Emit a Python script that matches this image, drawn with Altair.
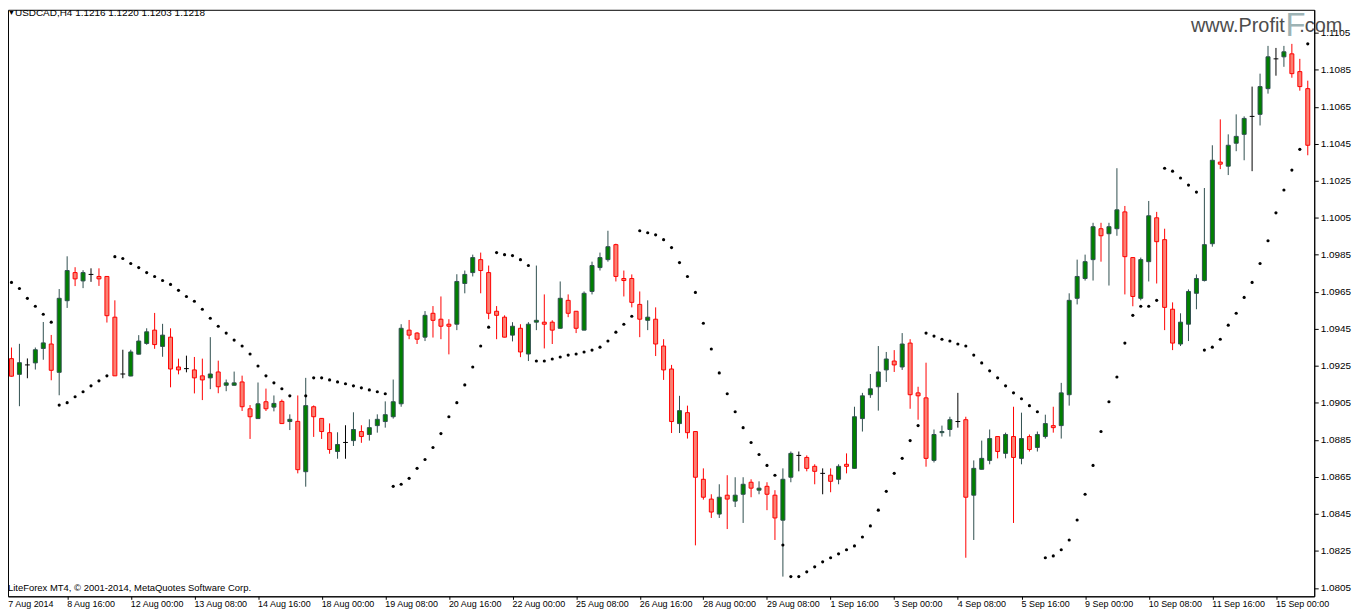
import altair as alt
import pandas as pd

# ---- data (USDCAD H4) ----
opens = [1.09145,1.09289,1.09204,1.09255,1.09266,1.09344,1.09368,1.09215,1.09602,1.09754,
         1.09709,1.09744,1.09733,1.09733,1.09513,1.09206,1.09195,1.09313,1.09371,1.09443,
         1.09355,1.09405,1.09244,1.09235,1.09228,1.09196,1.09185,1.09217,1.09145,1.09145,
         1.09163,1.09018,1.08965,1.09056,1.09027,1.09058,1.08949,1.08950,1.08678,1.09029,
         1.08966,1.08889,1.08787,1.08836,1.08846,1.08895,1.08879,1.08927,1.08949,1.08975,
         1.09045,1.09443,1.09427,1.09405,1.09534,1.09502,1.09475,1.09475,1.09695,1.09754,
         1.09824,1.09754,1.09545,1.09513,1.09416,1.09453,1.09314,1.09486,1.09486,1.09486,
         1.09453,1.09604,1.09545,1.09443,1.09652,1.09781,1.09824,1.09905,1.09722,1.09722,
         1.09582,1.09496,1.09502,1.09357,1.09233,1.08938,1.08997,1.08895,1.08637,1.08530,
         1.08449,1.08551,1.08519,1.08556,1.08621,1.08578,1.08599,1.08551,1.08416,1.08648,
         1.08766,1.08755,1.08707,1.08669,1.08659,1.08637,1.08718,1.08696,1.08965,1.09094,
         1.09137,1.09228,1.09276,1.09244,1.09373,1.09104,1.09077,1.08739,1.08889,1.08906,
         1.08949,1.08959,1.08551,1.08691,1.08739,1.08868,1.08777,1.08868,1.08750,1.08868,
         1.08809,1.08868,1.08927,1.08927,1.09094,1.09615,1.09722,1.09824,1.09991,1.09964,
         1.09991,1.10082,1.09835,1.09615,1.09813,1.10050,1.09932,1.09556,1.09368,1.09475,
         1.09642,1.09711,1.09910,1.10351,1.10329,1.10453,1.10501,1.10598,1.10609,1.10748,
         1.10909,1.10920,1.10936,1.10840,1.10748]
highs = [1.09385,1.09349,1.09369,1.09290,1.09349,1.09487,1.09417,1.09665,1.09842,1.09783,
         1.09767,1.09777,1.09777,1.09735,1.09604,1.09337,1.09337,1.09416,1.09453,1.09536,
         1.09477,1.09453,1.09289,1.09305,1.09298,1.09289,1.09405,1.09278,1.09176,1.09219,
         1.09197,1.09038,1.09160,1.09127,1.09090,1.09068,1.08988,1.09090,1.09185,1.09036,
         1.08968,1.08939,1.08891,1.08929,1.08999,1.08929,1.08961,1.08988,1.09058,1.09176,
         1.09475,1.09498,1.09432,1.09546,1.09573,1.09625,1.09502,1.09745,1.09765,1.09851,
         1.09862,1.09792,1.09573,1.09523,1.09486,1.09475,1.09486,1.09792,1.09636,1.09496,
         1.09706,1.09636,1.09546,1.09652,1.09813,1.09862,1.09980,1.09910,1.09765,1.09744,
         1.09652,1.09604,1.09566,1.09394,1.09255,1.09088,1.09035,1.08897,1.08696,1.08556,
         1.08610,1.08659,1.08648,1.08648,1.08637,1.08626,1.08621,1.08578,1.08696,1.08787,
         1.08787,1.08766,1.08718,1.08696,1.08696,1.08718,1.08777,1.09029,1.09104,1.09206,
         1.09357,1.09325,1.09335,1.09427,1.09394,1.09137,1.09267,1.08906,1.08927,1.08975,
         1.09104,1.08975,1.08739,1.08846,1.08906,1.08870,1.08889,1.09029,1.08997,1.08879,
         1.08895,1.08986,1.09029,1.09158,1.09642,1.09824,1.09851,1.10023,1.10023,1.10023,
         1.10318,1.10114,1.09837,1.09835,1.10141,1.10082,1.09991,1.09593,1.09534,1.09663,
         1.09744,1.10211,1.10442,1.10582,1.10501,1.10609,1.10598,1.10759,1.10829,1.10979,
         1.10968,1.10979,1.10990,1.10909,1.10791]
lows = [1.09134,1.09192,1.09032,1.09183,1.09230,1.09283,1.09172,1.09091,1.09563,1.09681,
        1.09670,1.09704,1.09682,1.09484,1.09195,1.09183,1.09194,1.09312,1.09364,1.09342,
        1.09299,1.09134,1.09204,1.09215,1.09101,1.09065,1.09124,1.09102,1.09113,1.09144,
        1.09006,1.08855,1.08964,1.09006,1.09004,1.08937,1.08903,1.08669,1.08597,1.08866,
        1.08855,1.08775,1.08748,1.08748,1.08817,1.08834,1.08846,1.08889,1.08916,1.08965,
        1.09029,1.09394,1.09368,1.09384,1.09403,1.09394,1.09312,1.09443,1.09642,1.09733,
        1.09642,1.09502,1.09394,1.09404,1.09382,1.09297,1.09276,1.09443,1.09344,1.09368,
        1.09452,1.09513,1.09427,1.09442,1.09636,1.09765,1.09813,1.09706,1.09625,1.09566,
        1.09405,1.09443,1.09303,1.09174,1.08887,1.08887,1.08857,1.08280,1.08527,1.08428,
        1.08428,1.08368,1.08487,1.08401,1.08540,1.08556,1.08470,1.08309,1.08111,1.08621,
        1.08680,1.08680,1.08610,1.08556,1.08567,1.08610,1.08669,1.08695,1.08895,1.09077,
        1.09008,1.09163,1.09217,1.09228,1.09018,1.08959,1.08705,1.08728,1.08868,1.08868,
        1.08916,1.08213,1.08309,1.08690,1.08718,1.08750,1.08750,1.08401,1.08718,1.08787,
        1.08787,1.08857,1.08889,1.08857,1.09035,1.09582,1.09711,1.09711,1.09813,1.09684,
        1.09953,1.09636,1.09572,1.09604,1.09706,1.09695,1.09443,1.09335,1.09357,1.09384,
        1.09556,1.09706,1.09894,1.10313,1.10281,1.10410,1.10361,1.10302,1.10549,1.10721,
        1.10818,1.10866,1.10807,1.10737,1.10388]
closes = [1.09298,1.09194,1.09267,1.09255,1.09337,1.09374,1.09226,1.09615,1.09765,1.09720,
          1.09754,1.09744,1.09720,1.09521,1.09196,1.09206,1.09325,1.09384,1.09434,1.09365,
          1.09416,1.09233,1.09228,1.09235,1.09185,1.09174,1.09206,1.09137,1.09158,1.09158,
          1.09029,1.08975,1.09045,1.09018,1.09047,1.08938,1.08961,1.08689,1.09035,1.08975,
          1.08895,1.08798,1.08825,1.08836,1.08906,1.08868,1.08916,1.08961,1.08986,1.09056,
          1.09453,1.09416,1.09394,1.09523,1.09496,1.09464,1.09464,1.09706,1.09744,1.09835,
          1.09765,1.09534,1.09523,1.09405,1.09464,1.09325,1.09475,1.09496,1.09475,1.09443,
          1.09615,1.09534,1.09453,1.09642,1.09792,1.09835,1.09894,1.09733,1.09711,1.09593,
          1.09502,1.09513,1.09368,1.09228,1.08949,1.09008,1.08889,1.08648,1.08540,1.08460,
          1.08540,1.08530,1.08551,1.08610,1.08589,1.08589,1.08556,1.08428,1.08637,1.08777,
          1.08766,1.08696,1.08680,1.08669,1.08626,1.08707,1.08707,1.08975,1.09088,1.09126,
          1.09217,1.09287,1.09255,1.09368,1.09094,1.09088,1.08750,1.08879,1.08895,1.08959,
          1.08949,1.08540,1.08696,1.08750,1.08857,1.08787,1.08879,1.08755,1.08857,1.08798,
          1.08879,1.08938,1.08916,1.09104,1.09604,1.09733,1.09813,1.10002,1.09953,1.10002,
          1.10093,1.09840,1.09625,1.09824,1.10061,1.09921,1.09566,1.09373,1.09486,1.09652,
          1.09722,1.09905,1.10361,1.10340,1.10442,1.10490,1.10587,1.10598,1.10759,1.10920,
          1.10909,1.10947,1.10829,1.10759,1.10442]
sar = [1.09740,1.09701,1.09668,1.09615,1.09572,1.09529,1.09486,1.09038,1.09051,1.09083,
       1.09110,1.09142,1.09169,1.09196,1.09840,1.09830,1.09803,1.09781,1.09754,1.09733,
       1.09711,1.09690,1.09658,1.09625,1.09599,1.09556,1.09507,1.09464,1.09427,1.09389,
       1.09357,1.09314,1.09249,1.09196,1.09158,1.09126,1.09088,None,1.09088,1.09185,
       1.09185,1.09174,1.09163,1.09153,1.09142,1.09131,1.09120,1.09110,1.09099,1.08599,
       1.08610,1.08642,1.08696,1.08744,1.08809,1.08884,1.08975,1.09051,1.09147,1.09244,
       1.09357,1.09459,1.09862,1.09851,1.09846,1.09824,1.09792,1.09276,1.09276,1.09287,
       1.09298,1.09308,1.09314,1.09325,1.09335,1.09351,1.09384,1.09432,1.09475,1.09518,
       1.09980,1.09969,1.09958,1.09932,1.09889,1.09808,1.09733,1.09647,1.09480,1.09341,
       1.09212,1.09099,1.09002,1.08916,1.08836,1.08771,1.08712,1.08659,1.08282,1.08111,
       1.08111,1.08137,1.08164,1.08191,1.08213,1.08234,1.08256,1.08277,1.08325,1.08385,
       1.08470,1.08572,1.08669,1.08750,1.08846,1.08927,1.09427,1.09411,1.09394,1.09384,
       1.09368,1.09357,1.09308,1.09266,1.09223,1.09185,1.09142,1.09104,1.09072,1.09035,
       1.09002,1.08213,1.08223,1.08256,1.08309,1.08417,1.08556,1.08712,1.08895,1.09056,
       1.09190,1.09373,1.09523,1.09572,1.09572,1.09604,1.10318,1.10302,1.10265,1.10227,
       1.10189,1.09335,1.09351,1.09394,1.09470,1.09534,1.09620,1.09701,1.09803,1.09926,
       1.10077,1.10200,1.10308,1.10420,1.10990]

date_labels = ["7 Aug 2014", "8 Aug 16:00", "12 Aug 00:00", "13 Aug 08:00", "14 Aug 16:00",
               "18 Aug 00:00", "19 Aug 08:00", "20 Aug 16:00", "22 Aug 00:00", "25 Aug 08:00",
               "26 Aug 16:00", "28 Aug 00:00", "29 Aug 08:00", "1 Sep 16:00", "3 Sep 00:00",
               "4 Sep 08:00", "5 Sep 16:00", "9 Sep 00:00", "10 Sep 08:00", "11 Sep 16:00",
               "15 Sep 00:00"]
label_bars = [0, 8, 16, 24, 32, 40, 48, 56, 64, 72, 80, 88, 96, 104, 112, 120, 128,
              136, 144, 152, 160]
y_ticks = [1.0805, 1.0825, 1.0845, 1.0865, 1.0885, 1.0905, 1.0925, 1.0945, 1.0965,
           1.0985, 1.1005, 1.1025, 1.1045, 1.1065, 1.1085, 1.1105]

header = "USDCAD,H4  1.1216 1.1220 1.1203 1.1218"
copyright_text = "LiteForex MT4, \u00a9 2001-2014, MetaQuotes Software Corp."

df = pd.DataFrame({"i": list(range(len(opens))), "open": opens, "high": highs,
                   "low": lows, "close": closes, "sar": sar})
lab_df = pd.DataFrame({"bar": label_bars, "label": date_labels})

W, H = 1314, 590
FONT = "Liberation Sans"
xs = alt.Scale(domain=[0.5625, 164.8125], nice=False, zero=False)
ys = alt.Scale(domain=[1.080046, 1.111741], nice=False, zero=False)

x_axis = alt.Axis(values=label_bars, labels=False, tickSize=3, tickColor="black",
                  domainColor="black", grid=False, title=None)
y_axis = alt.Axis(orient="right", values=y_ticks, format=".4f", tickSize=4,
                  tickColor="black", domainColor="black", grid=False,
                  labelFont=FONT, labelFontSize=10, labelColor="black",
                  labelPadding=2, title=None)

base = alt.Chart(df).transform_calculate(
    cat="datum.close > datum.open ? 'up' : (datum.close < datum.open ? 'down' : 'doji')"
)

wicks = base.mark_rule(strokeWidth=1, clip=True).encode(
    x=alt.X("i:Q", scale=xs, axis=x_axis),
    y=alt.Y("low:Q", scale=ys, axis=y_axis),
    y2="high:Q",
    color=alt.Color("cat:N", legend=None,
                    scale=alt.Scale(domain=["up", "down", "doji"],
                                    range=["#2F4F4F", "#FF0000", "#000000"])),
)

bodies = base.transform_filter("datum.cat != 'doji'").transform_calculate(
    xl="datum.i - 0.25", xr="datum.i + 0.25"
).mark_rect(strokeWidth=1, clip=True).encode(
    x=alt.X("xl:Q", scale=xs, axis=x_axis),
    x2="xr:Q",
    y=alt.Y("open:Q", scale=ys, axis=y_axis),
    y2="close:Q",
    fill=alt.Fill("cat:N", legend=None,
                  scale=alt.Scale(domain=["up", "down"], range=["#008000", "#FA8072"])),
    stroke=alt.Stroke("cat:N", legend=None,
                      scale=alt.Scale(domain=["up", "down"], range=["#2F4F4F", "#FF0000"])),
)

doji = base.transform_filter("datum.cat == 'doji'").transform_calculate(
    xl="datum.i - 0.3", xr="datum.i + 0.3"
).mark_rule(color="black", strokeWidth=1, clip=True).encode(
    x=alt.X("xl:Q", scale=xs, axis=x_axis),
    x2="xr:Q",
    y=alt.Y("open:Q", scale=ys, axis=y_axis),
)

dots = base.transform_filter("isValid(datum.sar)").mark_circle(
    size=10, color="black", opacity=1, clip=True
).encode(
    x=alt.X("i:Q", scale=xs, axis=x_axis),
    y=alt.Y("sar:Q", scale=ys, axis=y_axis),
)

xlabels = alt.Chart(lab_df).transform_calculate(xp="max(datum.bar, 0.6)").mark_text(
    align="left", baseline="middle", font=FONT, fontSize=9, color="black"
).encode(
    x=alt.X("xp:Q", scale=xs, axis=x_axis),
    y=alt.value(H + 8),
    text="label:N",
)

def txt(s, x, y, size, color, baseline="middle"):
    return alt.Chart(pd.DataFrame({"t": [s]})).mark_text(
        align="left", baseline=baseline, font=FONT, fontSize=size, color=color
    ).encode(x=alt.value(x), y=alt.value(y), text="t:N")

tri = txt("\u25bc", 0, 3, 7, "black")
head = txt(header, 7, 3, 10, "black")
copy_t = txt(copyright_text, 0, 582, 9.5, "black")
wm1 = txt("www.Profit", 1190, 22, 20, "#4d4d4d", baseline="alphabetic")
wm2 = txt("F", 1285, 26, 33, "#9DB3B5", baseline="alphabetic")
wm3 = txt(".com", 1299, 22, 20, "#4d4d4d", baseline="alphabetic")

chart = alt.layer(
    wicks, bodies, doji, dots, xlabels, tri, head, copy_t, wm1, wm2, wm3
).resolve_scale(
    color="independent", fill="independent", stroke="independent"
).properties(
    width=W, height=H,
    autosize=alt.AutoSizeParams(type="none"),
    padding={"left": 0, "top": 0, "right": 40, "bottom": 17},
    background="white",
).configure_view(stroke="black", strokeWidth=1)

chart.save("out.html", embed_options={"renderer": "svg", "actions": False})
